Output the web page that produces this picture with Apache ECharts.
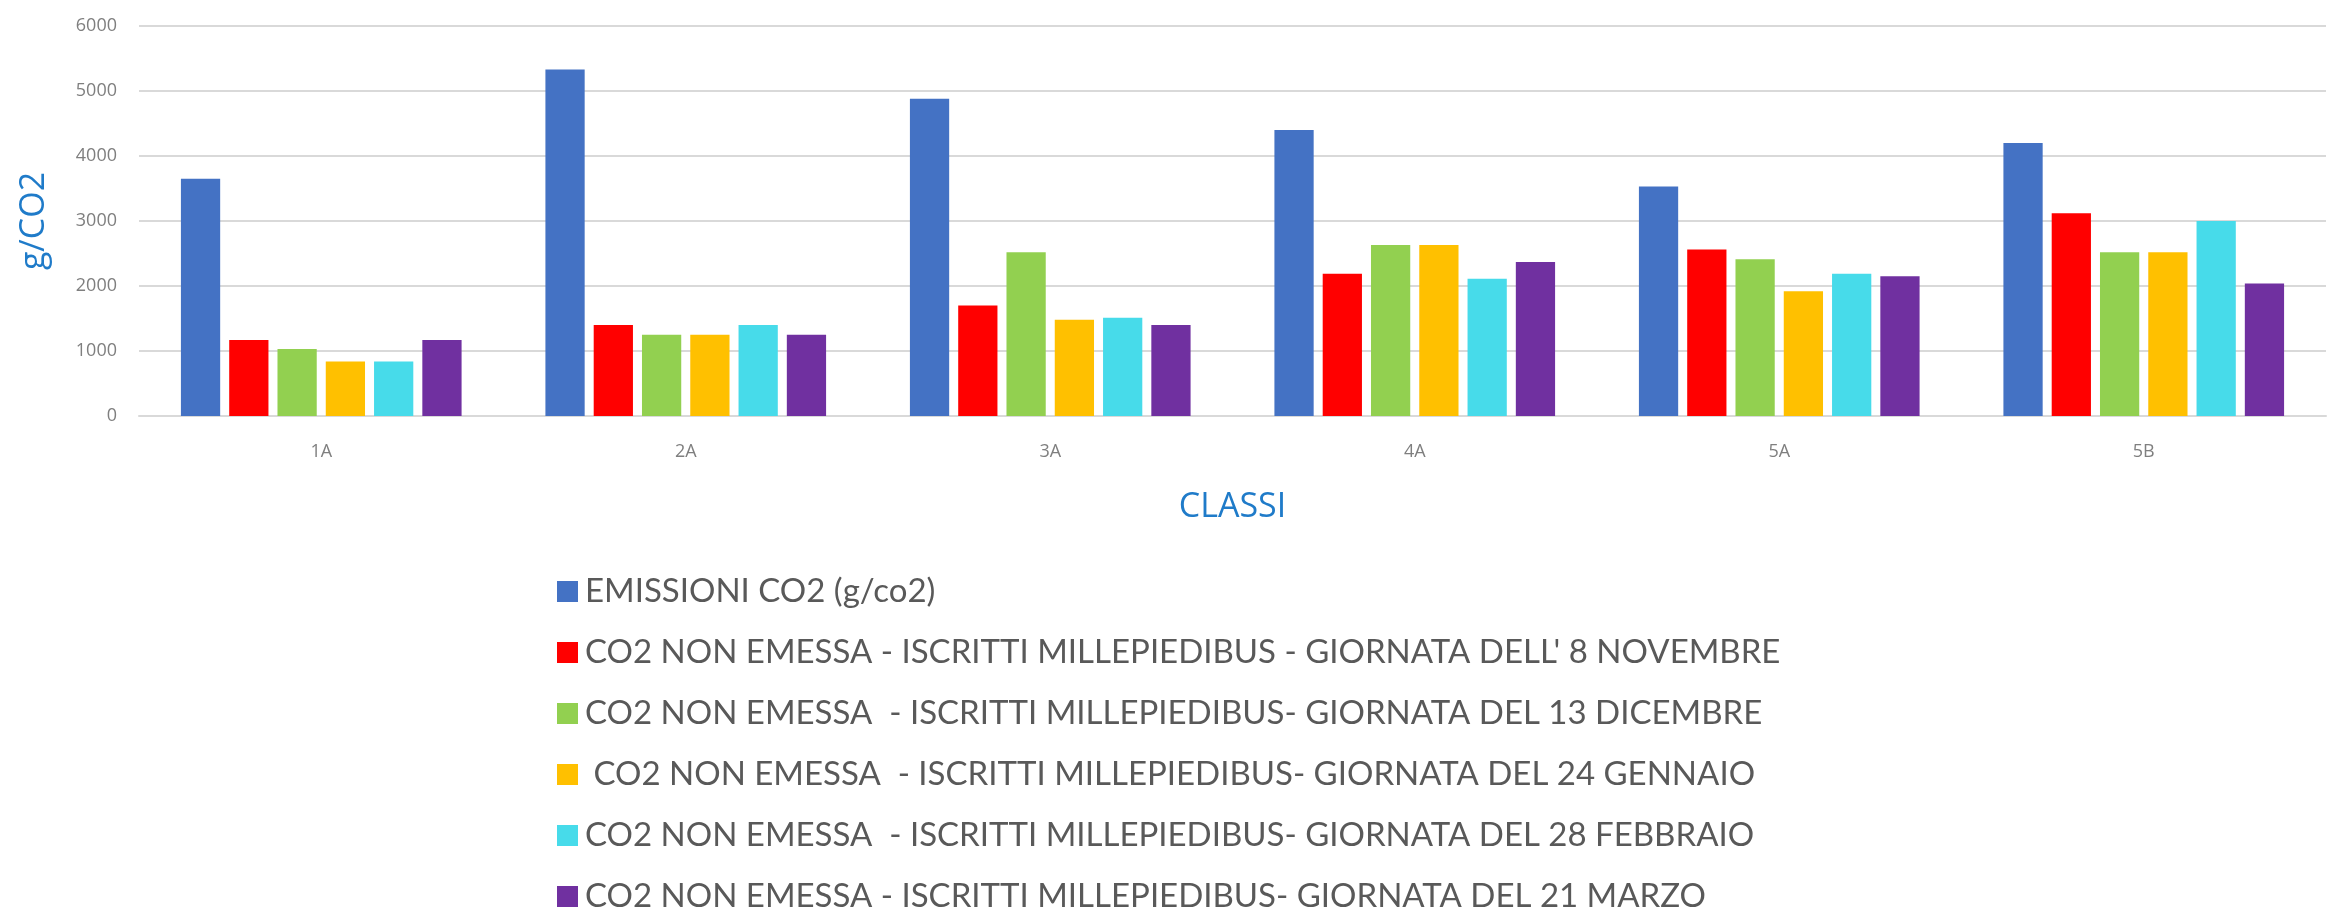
<!DOCTYPE html>
<html>
<head>
<meta charset="utf-8">
<script src="https://cdn.jsdelivr.net/npm/echarts@6/dist/echarts.min.js"></script>
<style>
html, body { margin: 0; padding: 0; background: #fff; }
#draw { width: 2343px; height: 912px; }
</style>
</head>
<body>
<div id="draw"></div>
<script>
var classi = ["1A", "2A", "3A", "4A", "5A", "5B"];
var seriesNames = [
  "EMISSIONI CO2 (g/co2)",
  "CO2 NON EMESSA - ISCRITTI MILLEPIEDIBUS - GIORNATA DELL' 8 NOVEMBRE",
  "CO2 NON EMESSA  - ISCRITTI MILLEPIEDIBUS- GIORNATA DEL 13 DICEMBRE",
  " CO2 NON EMESSA  - ISCRITTI MILLEPIEDIBUS- GIORNATA DEL 24 GENNAIO",
  "CO2 NON EMESSA  - ISCRITTI MILLEPIEDIBUS- GIORNATA DEL 28 FEBBRAIO",
  "CO2 NON EMESSA - ISCRITTI MILLEPIEDIBUS- GIORNATA DEL 21 MARZO"
];
var emissioni = [3650, 5330, 4880, 4400, 3530, 4200];
var novembre8 = [1170, 1400, 1700, 2190, 2560, 3120];
var dicembre13 = [1030, 1250, 2520, 2630, 2410, 2520];
var gennaio24 = [840, 1250, 1480, 2630, 1920, 2520];
var febbraio28 = [840, 1400, 1510, 2110, 2190, 3000];
var marzo21 = [1170, 1250, 1400, 2370, 2150, 2040];

var colori = ["#4472C4", "#FF0000", "#92D050", "#FFC000", "#47DBEA", "#7030A0"];
var valori = [emissioni, novembre8, dicembre13, gennaio24, febbraio28, marzo21];

var chart = echarts.init(document.getElementById("draw"));

var series = [];
for (let i = 0; i < valori.length; i++) {
  series.push({
    name: seriesNames[i],
    type: "bar",
    data: valori[i],
    barGap: "23%",
    barCategoryGap: "23%",
    itemStyle: { color: colori[i] }
  });
}

var option = {
  animation: false,
  color: colori,
  grid: { left: 139, right: 17, top: 26, bottom: 496 },
  xAxis: {
    type: "category",
    data: classi,
    name: "CLASSI",
    nameLocation: "middle",
    nameGap: 74,
    nameTextStyle: { color: "#1F7BC9", fontSize: 34, fontFamily: "Open Sans" },
    axisLine: { show: true, lineStyle: { color: "#D9D9D9", width: 2 } },
    axisTick: { show: false },
    axisLabel: { color: "#7F7F7F", fontSize: 18, margin: 27, fontFamily: "Open Sans" }
  },
  yAxis: {
    type: "value",
    min: 0,
    max: 6000,
    interval: 1000,
    name: "g/CO2",
    nameLocation: "middle",
    nameRotate: 90,
    nameGap: 88,
    nameTextStyle: { color: "#1F7BC9", fontSize: 34, fontFamily: "Open Sans" },
    axisLine: { show: false },
    axisTick: { show: false },
    axisLabel: {
      color: "#7F7F7F", fontSize: 18, margin: 22, fontFamily: "Open Sans",
      formatter: function (v) { return String(v); }
    },
    splitLine: { show: true, lineStyle: { color: "#D9D9D9", width: 2, type: "solid" } }
  },
  legend: {
    orient: "vertical",
    left: 552,
    top: 570,
    height: 380,
    icon: "rect",
    itemWidth: 21,
    itemHeight: 21,
    itemGap: 28,
    textStyle: { color: "#595959", fontSize: 33, fontFamily: "Lato", padding: [0, 0, 0, 2] },
    data: seriesNames
  },
  series: series
};

chart.setOption(option);
</script>
</body>
</html>
